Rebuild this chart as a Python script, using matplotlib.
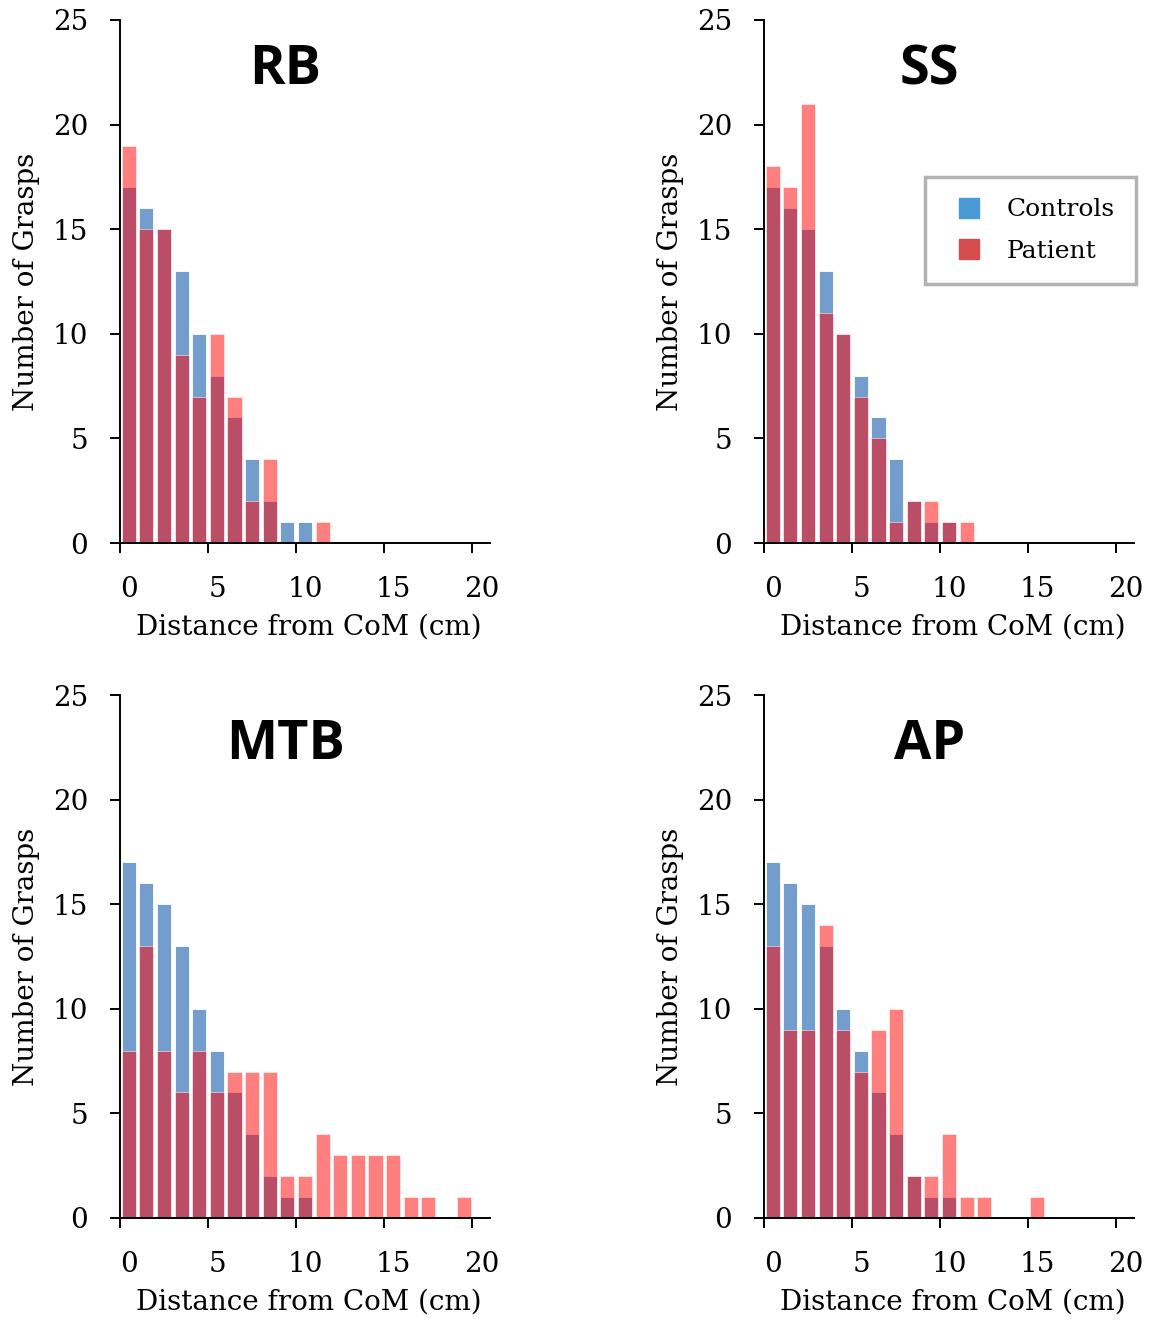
import numpy as np
import matplotlib
matplotlib.use("Agg")
import matplotlib.pyplot as plt
import matplotlib.transforms as mtransforms
from matplotlib.lines import Line2D

# histogram counts per 1 cm bin (bin i covers i..i+1 cm)
panels = ["RB", "SS", "MTB", "AP"]

rb_controls = [17, 16, 15, 13, 10, 8, 6, 4, 2, 1, 1, 0]
rb_patient = [19, 15, 15, 9, 7, 10, 7, 2, 4, 0, 0, 1]

ss_controls = [17, 16, 15, 13, 10, 8, 6, 4, 2, 1, 1, 0]
ss_patient = [18, 17, 21, 11, 10, 7, 5, 1, 2, 2, 1, 1]

mtb_controls = [17, 16, 15, 13, 10, 8, 6, 4, 2, 1, 1, 0, 0, 0, 0, 0, 0, 0, 0, 0]
mtb_patient = [8, 13, 8, 6, 8, 6, 7, 7, 7, 2, 2, 4, 3, 3, 3, 3, 1, 1, 0, 1]

ap_controls = [17, 16, 15, 13, 10, 8, 6, 4, 2, 1, 1, 0, 0, 0, 0, 0]
ap_patient = [13, 9, 9, 14, 9, 7, 9, 10, 2, 2, 4, 1, 1, 0, 0, 1]

controls = [rb_controls, ss_controls, mtb_controls, ap_controls]
patient = [rb_patient, ss_patient, mtb_patient, ap_patient]

xticks = [0, 5, 10, 15, 20]
yticks = [0, 5, 10, 15, 20, 25]

blue = "#739dcd"
red = (1.0, 0.0, 0.0, 0.5)
serif = "DejaVu Serif"

fig = plt.figure(figsize=(11.55, 13.21), dpi=100)

W, H = 1155.0, 1321.0
boxes = [(120, 20), (764, 20), (120, 695), (764, 695)]  # left, top in px
aw, ah = 370.0, 523.0

for k, name in enumerate(panels):
    left, top = boxes[k]
    ax = fig.add_axes([left / W, 1 - (top + ah) / H, aw / W, ah / H])

    c = np.array(controls[k])
    p = np.array(patient[k])
    x = np.arange(len(c)) + 0.5
    ax.bar(x, c, width=0.8, color=blue, edgecolor="white", linewidth=0.6)
    ax.bar(x, p, width=0.8, color=red, edgecolor=(1, 1, 1, 0.6), linewidth=0.6)

    ax.set_xlim(0, 21)
    ax.set_ylim(0, 25)
    for s in ["top", "right"]:
        ax.spines[s].set_visible(False)
    for s in ["left", "bottom"]:
        ax.spines[s].set_linewidth(1.4)

    ax.set_xticks(xticks)
    ax.set_yticks(yticks)
    ax.tick_params(axis="both", direction="out", length=7, width=1.4,
                   labelsize=20)
    ax.tick_params(axis="x", pad=17)
    ax.tick_params(axis="y", pad=16)
    for lab in ax.get_xticklabels() + ax.get_yticklabels():
        lab.set_family(serif)
    offset = mtransforms.ScaledTranslation(9 / 100, 0, fig.dpi_scale_trans)
    for lab in ax.get_xticklabels():
        lab.set_transform(lab.get_transform() + offset)

    ax.set_xlabel("Distance from CoM (cm)", family=serif, fontsize=20)
    ax.set_ylabel("Number of Grasps", family=serif, fontsize=20)
    ax.xaxis.set_label_coords(0.51, -0.135)
    ax.yaxis.set_label_coords(-0.215, 0.5)

    ax.text(9.4, 22.6, name, ha="center", va="center", fontsize=39,
            fontweight="bold", family="Open Sans")

    if name == "SS":
        handles = [Line2D([], [], linestyle="", marker="s", markersize=14,
                          markerfacecolor="#4a9ad6", markeredgecolor="#4a9ad6",
                          label="Controls"),
                   Line2D([], [], linestyle="", marker="s", markersize=14,
                          markerfacecolor="#d44c4c", markeredgecolor="#d44c4c",
                          label="Patient")]
        leg = ax.legend(handles=handles, loc="upper left",
                        bbox_to_anchor=((925 - left) / aw, 1 - (177 - top) / ah),
                        prop={"family": serif, "size": 18}, fancybox=False,
                        handlelength=1.8, handletextpad=0.6,
                        borderpad=0.85, labelspacing=0.75, borderaxespad=0)
        leg.get_frame().set_edgecolor("#a0a0a0")
        leg.get_frame().set_linewidth(2.5)

fig.savefig("out.png", dpi=100)
